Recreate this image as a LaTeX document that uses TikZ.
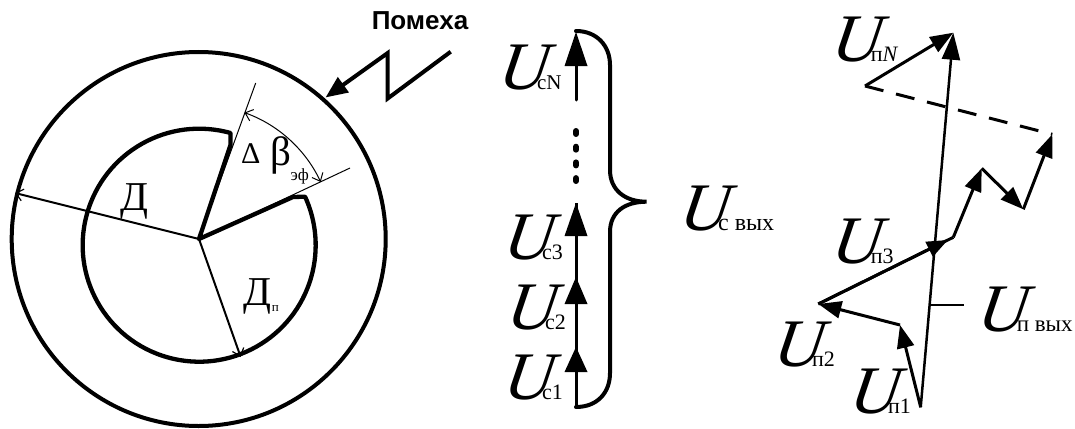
\documentclass[tikz,border=0pt]{standalone}
\usepackage{fontspec}
\setmainfont{Liberation Serif}
\newfontfamily\lsans{Liberation Sans}
\newfontfamily\Ufont[ItalicFeatures={FakeSlant=0.16}]{Liberation Serif}
\usetikzlibrary{arrows.meta,calc}
\newcommand{\bigU}[2]{\kern-6pt{\fontsize{68}{68}\Ufont\itshape U}\kern-9pt{\fontsize{#2}{#2}\selectfont #1}}
\tikzset{
  x=1pt,y=-1pt,
  thickline/.style={line width=4pt},
  vecline/.style={line width=3pt},
  thinline/.style={line width=1pt},
  dimline/.style={line width=2pt},
  vechead/.style={-{Triangle[length=23pt,width=17pt]}},
  openhead/.style={-{Straight Barb[length=7pt,width=12pt,line width=1.2pt]}},
  lbl/.style={anchor=base west,inner sep=0pt,outer sep=0pt},
}
\begin{document}
\begin{tikzpicture}
\useasboundingbox (0,0) rectangle (1075,428);
% left part
\coordinate (O) at (199,239);
\coordinate (rimD) at (15,193);
\coordinate (rimP) at (240.7,357);
\coordinate (s1) at (230.5,133);
\coordinate (s1b) at (230.5,145);
\coordinate (s2) at (305,197);
\coordinate (s2b) at (293,197);
\coordinate (ray1) at (255.7,83);
\coordinate (ray2) at (350,168);
\coordinate (arcA) at (320.7,182);
\coordinate (arcB) at (244,113);
\draw[thickline] (198.7,239) circle[radius=187];
\draw[line width=4.3pt,line join=round] (O) -- (s1b) -- (s1)
  arc[start angle=74.4,end angle=384.6,radius=116.5pt] -- (s2b) -- cycle;
\draw[thinline] (O) -- (ray1);
\draw[thinline] (O) -- (ray2);
\draw[dimline,openhead] (O) -- (rimD);
\draw[dimline,openhead] (O) -- (rimP);
\draw[thinline,{Straight Barb[length=7pt,width=12pt,line width=1pt]}-{Straight Barb[length=7pt,width=12pt,line width=1pt]}] (arcA) arc[start angle=25.1,end angle=70.3,radius=134.2pt];
\node[lbl] (lD) at (120,210) {\fontsize{41}{41}\selectfont Д};
\node[lbl] (lDp) at (243,305.5) {\fontsize{41}{41}\selectfont Д\kern1pt\raisebox{-6pt}{\fontsize{13}{13}\selectfont п}};
\node[lbl] (lDelta) at (241,163) {\fontsize{30}{30}\selectfont Δ};
\node[lbl] (lBeta) at (270,165) {\fontsize{41}{41}\selectfont β};
\node[lbl] (lEf) at (290.7,180) {\fontsize{17}{17}\selectfont эф};
% noise
\node[anchor=center,inner sep=0pt] (noise) at (420,21) {\lsans\bfseries\fontsize{26}{26}\selectfont Помеха};
\coordinate (zTip) at (325.5,97.5);
\coordinate (z1) at (387.7,53);
\coordinate (z2) at (387.7,98.5);
\coordinate (z3) at (450.7,51.7);
\draw[thickline,line join=miter,{Triangle[length=22pt,width=18pt]}-] (zTip) -- (z1) -- (z2) -- (z3);
% middle part
\coordinate (b0) at (576,407);
\coordinate (b1) at (576,347);
\coordinate (b2) at (576,277);
\coordinate (b3) at (576,203);
\coordinate (b4) at (576,100);
\coordinate (b5) at (576,32);
\draw[line width=3pt] (b0) -- (b3);
\fill (b1) -- (587.5,372) -- (564.5,372) -- cycle;
\fill (b2) -- (587.5,304) -- (564.5,304) -- cycle;
\fill (b3) -- (587.5,236) -- (564.5,236) -- cycle;
\fill (b5) -- (587.5,66) -- (564.5,66) -- cycle;
\draw[line width=3pt,line cap=round] (b4) -- (576,60);
\draw[line width=6pt,dash pattern=on 3pt off 12.7pt,line cap=round] (576,131) -- (576,181);
\coordinate (brTop) at (576,31);
\coordinate (brBot) at (576,407);
\coordinate (brTip) at (646.5,201.7);
\draw[thickline,line cap=round] (brTop) .. controls (597,31) and (610,46) .. (610,65)
 -- (610,170) .. controls (610,190) and (625,201.7) .. (brTip)
 .. controls (625,201.7) and (610,212) .. (610,232)
 -- (610,373) .. controls (610,393) and (597,407) .. (brBot);
\node[lbl] (Ucn) at (503,89) {\bigU{cN}{21}};
\node[lbl] (Uc3) at (508,259) {\bigU{c3}{22}};
\node[lbl] (Uc2) at (511,329) {\bigU{c2}{22}};
\node[lbl] (Uc1) at (508,399) {\bigU{c1}{22}};
\node[lbl] (Ucv) at (684,230) {\bigU{с вых}{24}};
% right part
\coordinate (P0) at (920.7,407.3);
\coordinate (P1) at (900,325);
\coordinate (P2) at (818.3,304);
\coordinate (P3) at (953.3,237.3);
\coordinate (P4) at (981.7,168.3);
\coordinate (P5) at (1023.3,209.3);
\coordinate (P6) at (1052.3,134.3);
\coordinate (P7) at (865,86);
\coordinate (P8) at (953.3,32.7);
\coordinate (Tk1) at (930,304.7);
\coordinate (Tk2) at (964,304.7);
\begin{scope}[vecline,line join=miter]
\draw[vechead] (P0) -- (P1);
\draw[vechead] (P1) -- (P2);
\draw (P2) -- (P3);
\draw[-{Triangle[length=21pt,width=16pt]}] (P2) -- ($(P2)!0.96!(P3)$);
\draw[vechead] (P3) -- (P4);
\draw[vechead] (P4) -- (P5);
\draw[vechead] (P5) -- (P6);
\draw[dash pattern=on 19pt off 13pt] (P7) -- (P6);
\draw[vechead] (P7) -- (P8);
\draw[line width=2.5pt,-{Triangle[length=27pt,width=18pt]}] (P0) -- (P8);
\draw[line width=2pt] (Tk1) -- (Tk2);
\end{scope}
\node[lbl] (Upn) at (836.7,61) {\bigU{п\textit{N}}{22}};
\node[lbl] (Up3) at (836.7,263) {\bigU{п3}{22}};
\node[lbl] (Upv) at (982.7,331.7) {\bigU{п вых}{23}};
\node[lbl] (Up2) at (778,366.7) {\bigU{п2}{22}};
\node[lbl] (Up1) at (854,413) {\bigU{п1}{22}};
\end{tikzpicture}
\end{document}
